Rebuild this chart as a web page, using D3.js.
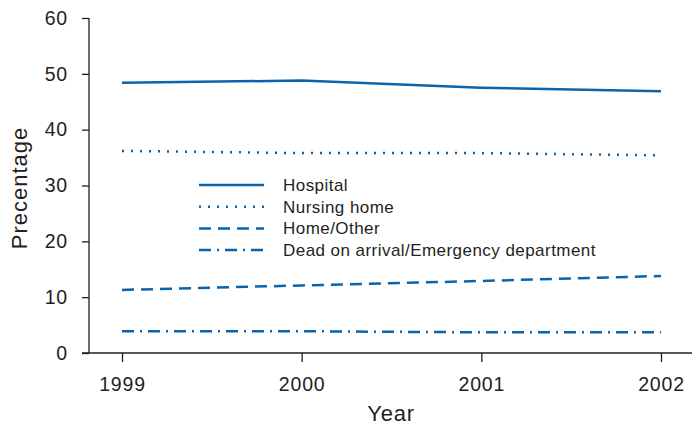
<!DOCTYPE html>
<html>
<head>
<meta charset="utf-8">
<script src="https://cdn.jsdelivr.net/npm/d3@7"></script>
<style>
  body { margin: 0; background: #fff; }
  text { font-family: "Liberation Sans", Arial, sans-serif; fill: #231f20; }
</style>
</head>
<body>
<div class="chart"></div>
<script>
const years = [1999, 2000, 2001, 2002];
const hospital = [48.4, 48.8, 47.5, 46.9];
const nursingHome = [36.2, 35.8, 35.8, 35.4];
const homeOther = [11.3, 12.1, 12.9, 13.8];
const deadOnArrival = [3.9, 3.9, 3.7, 3.7];
const yTicks = [0, 10, 20, 30, 40, 50, 60];

const seriesNames = ["Hospital", "Nursing home", "Home/Other", "Dead on arrival/Emergency department"];
const seriesValues = [hospital, nursingHome, homeOther, deadOnArrival];
const dashes = ["none", "2,7", "12,7", "12,6,2,6"];

const width = 692, height = 427;
const color = "#0a64ad";

const svg = d3.select(".chart").append("svg")
    .attr("width", width)
    .attr("height", height);

const xScale = d3.scaleLinear().domain([1999, 2002]).range([122, 661]);
const yScale = d3.scaleLinear().domain([0, 60]).range([353, 18]);

// axes
const yAxis = d3.axisLeft(yScale).tickValues(yTicks).tickSize(7).tickPadding(14);
const gy = svg.append("g").attr("transform", "translate(89,0)").call(yAxis);
gy.select(".domain").attr("d", `M0,${yScale(60)}V${yScale(0)}`);

const xAxis = d3.axisBottom(xScale).tickValues(years).tickFormat(d3.format("d")).tickSize(9).tickPadding(15);
const gx = svg.append("g").attr("transform", "translate(0,353)").call(xAxis);
gx.select(".domain").attr("d", "M82,0H692");

svg.selectAll(".domain, .tick line").attr("stroke", "#231f20").attr("stroke-width", 1.3);
svg.selectAll(".tick text").attr("font-size", 19.5).attr("fill", "#231f20")
    .style("letter-spacing", "0.8px")
    .style("font-family", "'Liberation Sans', Arial, sans-serif");

// axis titles
svg.append("text").attr("x", 391).attr("y", 421).attr("text-anchor", "middle")
    .attr("font-size", 22).style("letter-spacing", "0.8px").text("Year");
svg.append("text").attr("transform", "translate(27,188) rotate(-90)")
    .attr("text-anchor", "middle").attr("font-size", 22)
    .style("letter-spacing", "1px").text("Precentage");

// lines
const line = d3.line()
    .x((d, i) => xScale(years[i]))
    .y(d => yScale(d));

svg.selectAll(".series")
    .data(seriesValues)
    .enter()
    .append("path")
    .attr("class", "series")
    .attr("d", d => line(d))
    .attr("fill", "none")
    .attr("stroke", color)
    .attr("stroke-width", 2.5)
    .attr("stroke-dasharray", (d, i) => dashes[i]);

// legend
const legend = svg.append("g").attr("transform", "translate(199,185)");
seriesNames.forEach((name, i) => {
    const g = legend.append("g").attr("transform", `translate(0,${i * 21.7})`);
    g.append("line").attr("x1", 0).attr("x2", 65).attr("y1", 0).attr("y2", 0)
        .attr("stroke", color).attr("stroke-width", 2.5)
        .attr("stroke-dasharray", dashes[i]);
    g.append("text").attr("x", 84).attr("y", 6).attr("font-size", 17)
        .style("letter-spacing", "0.45px").text(name);
});
</script>
</body>
</html>
